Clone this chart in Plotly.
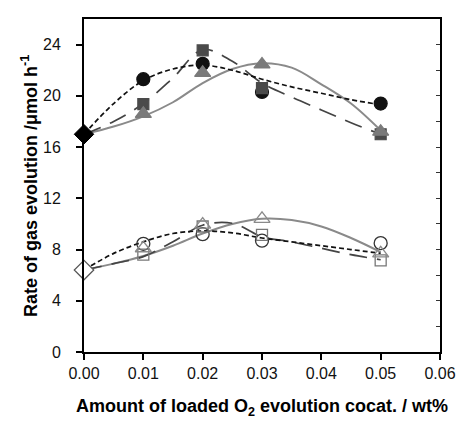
import plotly.graph_objects as go

# ---- measured points ----
x_pts = [0.01, 0.02, 0.03, 0.05]
x0 = [0.0]

top_start = [17.0]
top_circle = [21.3, 22.5, 20.3, 19.4]
top_square = [19.35, 23.55, 20.6, 17.0]
top_triangle = [18.6, 21.8, 22.45, 17.2]

bot_start = [6.4]
bot_circle = [8.45, 9.2, 8.7, 8.5]
bot_square = [7.6, 9.8, 9.15, 7.15]
bot_triangle = [8.1, 9.95, 10.4, 7.7]

# ---- fitted curves ----
cx = [0, 0.005, 0.01, 0.015, 0.02, 0.025, 0.03, 0.035, 0.04, 0.045, 0.05]
top_circle_fit = [17.0, 19.4, 21.2, 22.1, 22.4, 22.0, 21.3, 20.7, 20.2, 19.7, 19.3]
top_square_fit = [17.0, 18.0, 19.4, 21.4, 23.6, 22.7, 21.0, 19.9, 18.9, 17.9, 17.0]
top_triangle_fit = [17.0, 17.6, 18.4, 19.5, 21.0, 22.1, 22.55, 22.2, 20.9, 19.4, 17.3]
bot_circle_fit = [6.4, 7.7, 8.6, 9.25, 9.45, 9.3, 8.9, 8.6, 8.3, 8.0, 7.7]
bot_square_fit = [6.4, 6.9, 7.45, 8.6, 9.9, 10.05, 9.0, 8.6, 8.1, 7.6, 7.2]
bot_triangle_fit = [6.4, 6.9, 7.5, 8.3, 9.25, 10.0, 10.4, 10.3, 9.8, 8.9, 7.8]

x_ticks = [0.00, 0.01, 0.02, 0.03, 0.04, 0.05, 0.06]
y_ticks = [0, 4, 8, 12, 16, 20, 24]

x_title = "<b>Amount of loaded O<sub>2</sub> evolution cocat. / wt%</b>"
y_title = "<b>Rate of gas evolution /μmol h<sup>-1</sup></b>"

BLACK = "#111111"
DARK = "#444444"
GRAY = "#8a8a8a"

fig = go.Figure()

def curve(y, color, dash, width=1.8):
    fig.add_trace(go.Scatter(x=cx, y=y, mode="lines",
                             line=dict(color=color, dash=dash, width=width, shape="spline", smoothing=1.0),
                             showlegend=False, hoverinfo="skip", cliponaxis=False))

curve(top_triangle_fit, GRAY, "solid", 2)
curve(top_square_fit, DARK, "18px,10px", 1.7)
curve(top_circle_fit, BLACK, "5px,3px", 1.7)
curve(bot_triangle_fit, GRAY, "solid", 2)
curve(bot_square_fit, DARK, "18px,10px", 1.7)
curve(bot_circle_fit, BLACK, "5px,3px", 1.7)

def pts(y, symbol, size, fill, line_color, lw=1.2):
    fig.add_trace(go.Scatter(x=x_pts, y=y, mode="markers",
                             marker=dict(symbol=symbol, size=size, color=fill, line=dict(color=line_color, width=lw)),
                             showlegend=False, cliponaxis=False))

pts(top_circle, "circle", 13, BLACK, BLACK)
pts(top_square, "square", 11, "#4a4a4a", "#4a4a4a")
pts(top_triangle, "triangle-up", 14, "#7a7a7a", "#7a7a7a")
pts(bot_circle, "circle-open", 13, "#333333", "#333333", 1.3)
pts(bot_square, "square-open", 11, "#777777", "#777777", 1.3)
pts(bot_triangle, "triangle-up-open", 14, "#8a8a8a", "#8a8a8a", 1.3)

fig.add_trace(go.Scatter(x=x0, y=top_start, mode="markers",
                         marker=dict(symbol="diamond", size=15, color="#000000", line=dict(color="#000000", width=1)),
                         showlegend=False, cliponaxis=False))
fig.add_trace(go.Scatter(x=x0, y=bot_start, mode="markers",
                         marker=dict(symbol="diamond", size=15, color="white", line=dict(color="#555555", width=1.2)),
                         showlegend=False, cliponaxis=False))

# invisible trace for right axis
fig.add_trace(go.Scatter(x=[None], y=[None], yaxis="y2", showlegend=False))

font = "Liberation Sans, Arial, sans-serif"
PW, PH = 359.0, 335.0  # plot area px
fig.update_layout(
    width=457, height=413,
    margin=dict(l=76, r=22, t=9, b=69),
    paper_bgcolor="white", plot_bgcolor="white",
    font=dict(family=font, size=16, color="#111111"),
    xaxis=dict(range=[0, 0.06], tickvals=x_ticks, tickformat=".2f", showgrid=False, zeroline=False,
               showline=True, linecolor="black", linewidth=2, mirror=True,
               ticks="outside", ticklen=6, tickwidth=2, tickcolor="black",
               tickfont=dict(size=16, family=font, color="#111111")),
    yaxis=dict(range=[0, 26], tickvals=y_ticks, showgrid=False, zeroline=False,
               showline=True, linecolor="black", linewidth=2, mirror=True,
               ticks="outside", ticklen=6, tickwidth=2, tickcolor="black", ticklabelstandoff=12,
               tickfont=dict(size=16, family=font, color="#111111")),
    yaxis2=dict(range=[0, 26], overlaying="y", side="right", dtick=2, showticklabels=False,
                ticks="inside", ticklen=4, tickwidth=1, tickcolor="#333333",
                showgrid=False, zeroline=False, showline=False),
    annotations=[
        dict(text=x_title, xref="paper", yref="paper", x=0.5, y=-(408 - 352) / PH,
             xanchor="center", yanchor="middle", showarrow=False,
             font=dict(size=18, family=font, color="#000000")),
        dict(text=y_title, xref="paper", yref="paper", x=(29 - 84) / PW, y=0.5,
             xanchor="center", yanchor="middle", showarrow=False, textangle=-90,
             font=dict(size=18, family=font, color="#000000")),
    ],
)

fig.write_html("out.html")
